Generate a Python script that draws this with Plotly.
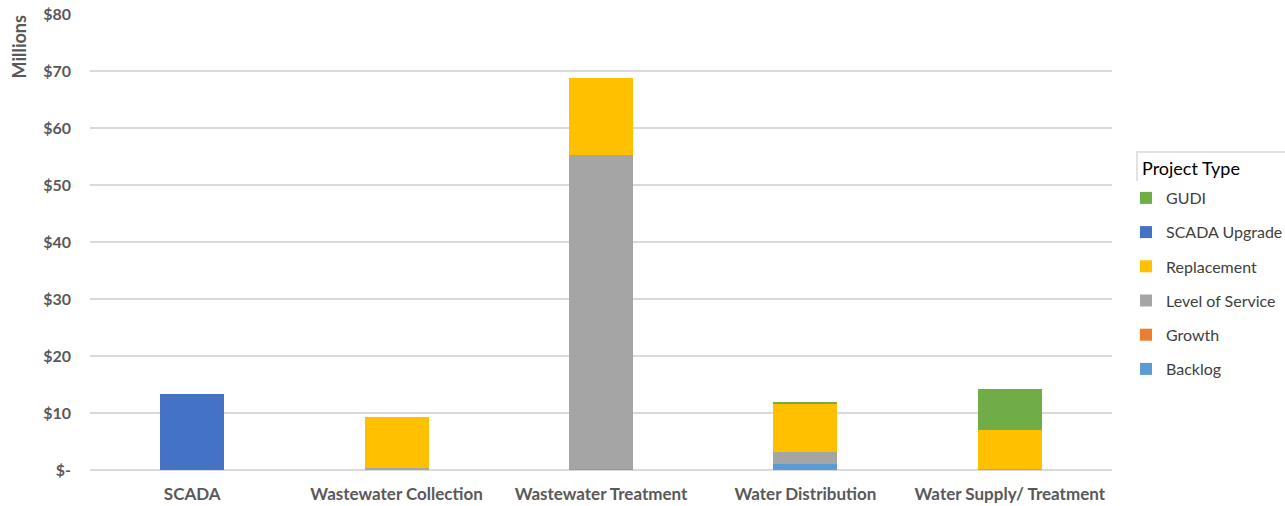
import plotly.graph_objects as go

categories = ["SCADA", "Wastewater Collection", "Wastewater Treatment", "Water Distribution", "Water Supply/ Treatment"]
backlog = [0, 0, 0, 1.1, 0]
growth = [0, 0, 0.25, 0, 0]
level_of_service = [0, 0.4, 55.0, 2.1, 0.2]
replacement = [0, 8.95, 13.6, 8.3, 6.8]
scada_upgrade = [13.3, 0, 0, 0, 0]
gudi = [0, 0, 0, 0.4, 7.2]

tick_vals = [0, 10, 20, 30, 40, 50, 60, 70, 80]
tick_text = ["$-", "$10", "$20", "$30", "$40", "$50", "$60", "$70", "$80"]

series = [
    ("Backlog", backlog, "#5B9BD5"),
    ("Growth", growth, "#ED7D31"),
    ("Level of Service", level_of_service, "#A5A5A5"),
    ("Replacement", replacement, "#FFC000"),
    ("SCADA Upgrade", scada_upgrade, "#4472C4"),
    ("GUDI", gudi, "#70AD47"),
]

fig = go.Figure()
for i, (name, vals, color) in enumerate(series):
    fig.add_trace(go.Bar(
        x=categories, y=vals, name=name, marker_color=color,
        marker_line_width=0, legendgroup=name, legendrank=1000 - i,
    ))

font_family = "Lato, 'Open Sans', sans-serif"

fig.update_layout(
    width=1285, height=506,
    barmode="stack", bargap=0.686,
    plot_bgcolor="white", paper_bgcolor="white",
    margin=dict(l=90, r=173, t=14, b=36),
    font=dict(family=font_family, color="#595959"),
    xaxis=dict(
        showline=False, showgrid=False, ticks="",
        tickfont=dict(size=17, color="#595959", weight="bold"),
        ticklabelstandoff=12, automargin=False,
    ),
    yaxis=dict(
        range=[0, 80], tickvals=tick_vals, ticktext=tick_text,
        showgrid=True, gridcolor="#d9d9d9", gridwidth=2,
        zeroline=True, zerolinecolor="#d9d9d9", zerolinewidth=2,
        showline=False, ticks="", ticklen=0,
        tickfont=dict(size=16, color="#595959", weight="bold"),
        ticklabelstandoff=18, automargin=False,
    ),
    legend=dict(
        xref="container", yref="container",
        x=1126 / 1285, xanchor="left", y=1 - 181 / 506, yanchor="top",
        traceorder="grouped", tracegroupgap=10.4,
        font=dict(size=16, color="#404040", family=font_family),
        itemclick=False,
    ),
    showlegend=True,
)

fig.add_annotation(
    text="<b>Millions</b>", textangle=-90, xref="paper", yref="paper",
    x=(18 - 90) / 1022, y=1.0, xanchor="center", yanchor="top", showarrow=False,
    font=dict(size=18, color="#595959", family=font_family),
)

# legend title box
fig.add_shape(type="rect", xref="paper", yref="paper",
              x0=(1137 - 90) / 1022, x1=(1290 - 90) / 1022,
              y0=(470 - 183) / 456, y1=(470 - 152) / 456,
              line=dict(color="#d9d9d9", width=1.5), fillcolor="white")
fig.add_annotation(
    text="Project Type", xref="paper", yref="paper",
    x=(1140 - 90) / 1022, y=(470 - 168) / 456, xanchor="left", yanchor="middle",
    showarrow=False, font=dict(size=18, color="#000000", family=font_family),
)

fig.write_html("out.html")
